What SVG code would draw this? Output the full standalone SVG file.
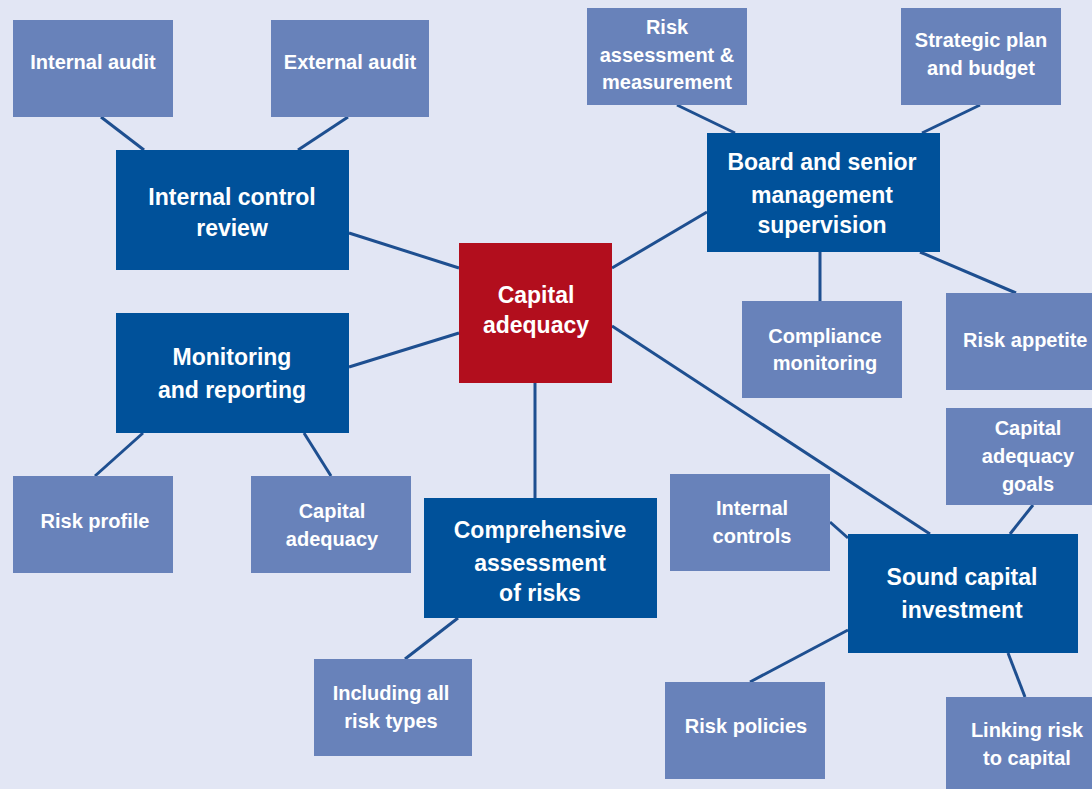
<svg xmlns="http://www.w3.org/2000/svg" width="1092" height="789" viewBox="0 0 1092 789">
<style>
.bg{fill:#E2E6F4}
.lt{fill:#6882BA}
.dk{fill:#00519A}
.rd{fill:#B20E1D}
text{font-family:"Liberation Sans Narrow","Liberation Sans",Arial,sans-serif;font-weight:bold;fill:#FFFFFF;text-anchor:middle}
.s{font-size:20px}
.b{font-size:23px}
#connectors line{stroke:#1E4F90;stroke-width:3}
</style>
<rect class="bg" x="0" y="0" width="1092" height="789"/>
<g id="connectors">
<line x1="101" y1="117" x2="144" y2="150"/>
<line x1="348" y1="117" x2="298" y2="150"/>
<line x1="349" y1="233" x2="459" y2="268"/>
<line x1="349" y1="367" x2="459" y2="333"/>
<line x1="612" y1="268" x2="707" y2="212"/>
<line x1="677" y1="105" x2="735" y2="133"/>
<line x1="980" y1="105" x2="922" y2="133"/>
<line x1="820" y1="252" x2="820" y2="301"/>
<line x1="920" y1="252" x2="1016" y2="293"/>
<line x1="612" y1="326" x2="930" y2="534"/>
<line x1="535" y1="383" x2="535" y2="498"/>
<line x1="143" y1="433" x2="95" y2="476"/>
<line x1="304" y1="433" x2="331" y2="476"/>
<line x1="458" y1="618" x2="405" y2="659"/>
<line x1="830" y1="522" x2="848" y2="538"/>
<line x1="1033" y1="505" x2="1010" y2="534"/>
<line x1="848" y1="630" x2="750" y2="682"/>
<line x1="1008" y1="653" x2="1025" y2="697"/>
</g>
<g id="internal-audit"><rect class="lt" x="13" y="20" width="160" height="97"/><text class="s" x="93" y="69">Internal audit</text></g>
<g id="external-audit"><rect class="lt" x="271" y="20" width="158" height="97"/><text class="s" x="350" y="69">External audit</text></g>
<g id="internal-control-review"><rect class="dk" x="116" y="150" width="233" height="120"/><text class="b" x="232" y="205">Internal control</text><text class="b" x="232" y="236">review</text></g>
<g id="risk-assessment"><rect class="lt" x="587" y="8" width="160" height="97"/><text class="s" x="667" y="34">Risk</text><text class="s" x="667" y="62">assessment &amp;</text><text class="s" x="667" y="89">measurement</text></g>
<g id="strategic-plan"><rect class="lt" x="901" y="8" width="160" height="97"/><text class="s" x="981" y="47">Strategic plan</text><text class="s" x="981" y="75">and budget</text></g>
<g id="board"><rect class="dk" x="707" y="133" width="233" height="119"/><text class="b" x="822" y="170">Board and senior</text><text class="b" x="822" y="203">management</text><text class="b" x="822" y="233">supervision</text></g>
<g id="capital-adequacy-main"><rect class="rd" x="459" y="243" width="153" height="140"/><text class="b" x="536" y="303">Capital</text><text class="b" x="536" y="333">adequacy</text></g>
<g id="compliance-monitoring"><rect class="lt" x="742" y="301" width="160" height="97"/><text class="s" x="825" y="343">Compliance</text><text class="s" x="825" y="370">monitoring</text></g>
<g id="risk-appetite"><rect class="lt" x="946" y="293" width="150" height="97"/><text class="s" x="963" y="347" style="text-anchor:start">Risk appetite</text></g>
<g id="monitoring-reporting"><rect class="dk" x="116" y="313" width="233" height="120"/><text class="b" x="232" y="365">Monitoring</text><text class="b" x="232" y="398">and reporting</text></g>
<g id="risk-profile"><rect class="lt" x="13" y="476" width="160" height="97"/><text class="s" x="95" y="528">Risk profile</text></g>
<g id="capital-adequacy-sub"><rect class="lt" x="251" y="476" width="160" height="97"/><text class="s" x="332" y="518">Capital</text><text class="s" x="332" y="546">adequacy</text></g>
<g id="comprehensive-assessment"><rect class="dk" x="424" y="498" width="233" height="120"/><text class="b" x="540" y="538">Comprehensive</text><text class="b" x="540" y="571">assessment</text><text class="b" x="540" y="601">of risks</text></g>
<g id="including-all"><rect class="lt" x="314" y="659" width="158" height="97"/><text class="s" x="391" y="700">Including all</text><text class="s" x="391" y="728">risk types</text></g>
<g id="internal-controls"><rect class="lt" x="670" y="474" width="160" height="97"/><text class="s" x="752" y="515">Internal</text><text class="s" x="752" y="543">controls</text></g>
<g id="capital-adequacy-goals"><rect class="lt" x="946" y="408" width="150" height="97"/><text class="s" x="1028" y="435">Capital</text><text class="s" x="1028" y="463">adequacy</text><text class="s" x="1028" y="491">goals</text></g>
<g id="sound-capital-investment"><rect class="dk" x="848" y="534" width="230" height="119"/><text class="b" x="962" y="585">Sound capital</text><text class="b" x="962" y="618">investment</text></g>
<g id="risk-policies"><rect class="lt" x="665" y="682" width="160" height="97"/><text class="s" x="746" y="733">Risk policies</text></g>
<g id="linking-risk"><rect class="lt" x="946" y="697" width="150" height="97"/><text class="s" x="1027" y="737">Linking risk</text><text class="s" x="1027" y="765">to capital</text></g>
</svg>
